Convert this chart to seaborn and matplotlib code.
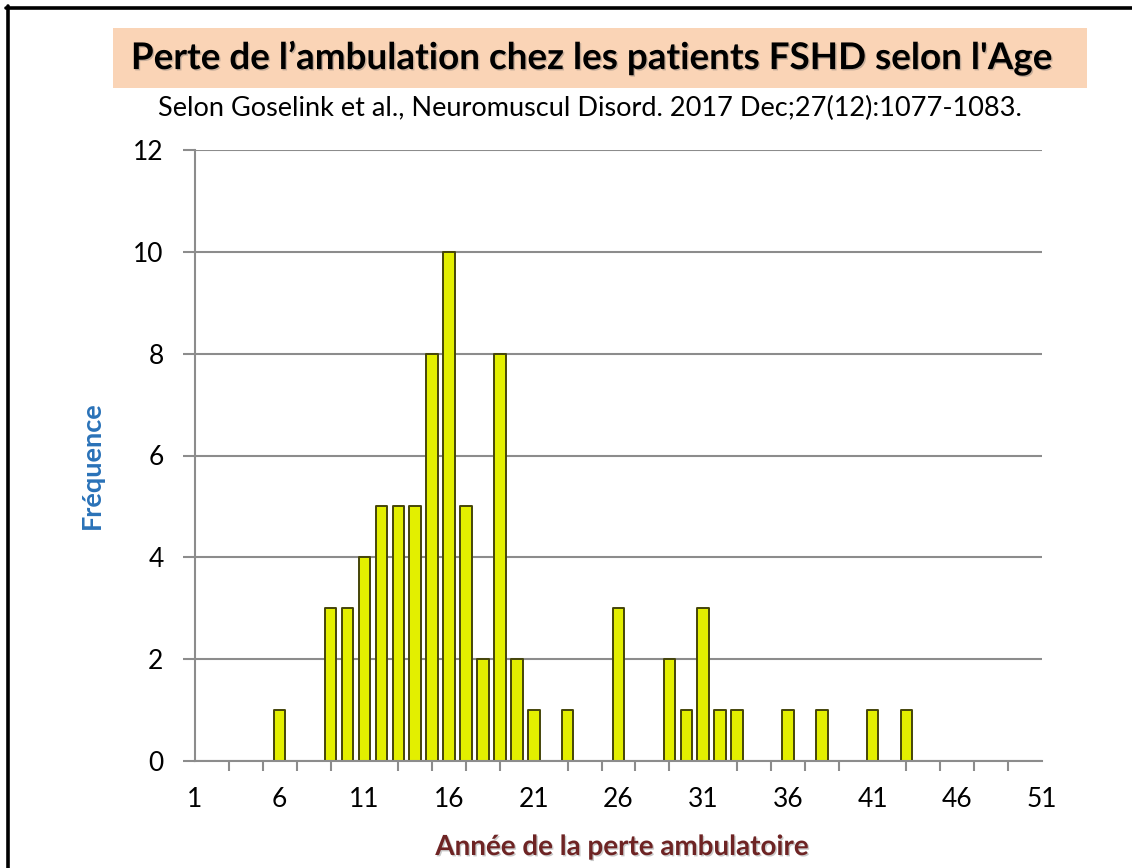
import matplotlib
matplotlib.use("Agg")
import matplotlib.pyplot as plt
import matplotlib.patheffects as pe
from matplotlib.patches import Rectangle
from matplotlib.lines import Line2D
from matplotlib.ticker import FixedLocator
import seaborn as sns
import pandas as pd

# Age at loss of ambulation and number of patients
ages = [6, 9, 10, 11, 12, 13, 14, 15, 16, 17, 18, 19, 20, 21, 23,
        26, 29, 30, 31, 32, 33, 36, 38, 41, 43]
counts = [1, 3, 3, 4, 5, 5, 5, 8, 10, 5, 2, 8, 2, 1, 1,
          3, 2, 1, 3, 1, 1, 1, 1, 1, 1]
x_labels = [1, 6, 11, 16, 21, 26, 31, 36, 41, 46, 51]
y_ticks = [0, 2, 4, 6, 8, 10, 12]

title = "Perte de l\u2019ambulation chez les patients FSHD selon l'Age"
subtitle = "Selon Goselink et al., Neuromuscul Disord. 2017 Dec;27(12):1077-1083."
xlabel = "Ann\u00e9e de la perte ambulatoire"
ylabel = "Fr\u00e9quence"

df = pd.DataFrame({"age": ages, "n": counts})

sns.set_theme(style="white")
plt.rcParams["font.family"] = ["Lato", "DejaVu Sans"]

W, H = 1132, 868
fig = plt.figure(figsize=(W / 100, H / 100), dpi=100)
fig.patch.set_facecolor("white")

# axes placed in pixel terms
left, right, top, bottom = 195, 1042, 150, 761
ax = fig.add_axes([left / W, 1 - bottom / H, (right - left) / W, (bottom - top) / H])

grid_c = "#8c8c8c"
ax.set_axisbelow(True)
ax.yaxis.grid(True, color=grid_c, linewidth=1.5)

sns.barplot(data=df, x="age", y="n", native_scale=True, width=0.68,
            color="#e3ef00", saturation=1, edgecolor="#45450a",
            linewidth=1.4, ax=ax)
for p in ax.patches:
    p.set_joinstyle("round")

ax.set_xlim(1, 51)
ax.set_ylim(0, 12)

for s in ["top", "right"]:
    ax.spines[s].set_visible(False)
for s in ["left", "bottom"]:
    ax.spines[s].set_color(grid_c)
    ax.spines[s].set_linewidth(1.5)

ax.set_yticks(y_ticks)
ax.tick_params(axis="y", direction="out", length=8.6, width=1.5, color=grid_c,
               pad=14, labelsize=19, labelcolor="black", left=True)
ax.xaxis.set_major_locator(FixedLocator(x_labels))
ax.xaxis.set_minor_locator(FixedLocator(list(range(1, 52, 2))))
ax.tick_params(axis="x", which="major", length=0, pad=19, labelsize=19,
               labelcolor="black", bottom=True)
ax.tick_params(axis="x", which="minor", direction="out", length=7, width=1.5,
               color=grid_c, bottom=True)

shadow = [pe.SimplePatchShadow(offset=(1, -1), shadow_rgbFace="#666666", alpha=0.35),
          pe.Normal()]

ax.set_ylabel(ylabel, fontsize=19.5, fontweight="bold", color="#2a72b8")
ax.yaxis.label.set_va("center")
ax.yaxis.set_label_coords((92 - left) / (right - left), (bottom - 465) / (bottom - top))
ax.set_xlabel(xlabel, fontsize=20, fontweight="bold", color="#6e2424",
              path_effects=shadow)
ax.xaxis.label.set_va("center")
ax.xaxis.set_label_coords((622 - left) / (right - left), (bottom - 847) / (bottom - top))

# title band
fig.patches.append(Rectangle((113 / W, 1 - 88 / H), 974 / W, 60 / H,
                             transform=fig.transFigure, facecolor="#fad4b6",
                             edgecolor="none", zorder=0))
fig.text(590 / W, 1 - 58 / H, title, ha="center", va="center", fontsize=26.5,
         fontweight="bold", color="black", path_effects=shadow)
fig.text(590 / W, 1 - 108 / H, subtitle, ha="center", va="center", fontsize=19.5,
         color="black")

# slide frame on top and left
fig.lines.append(Line2D([6 / W, 1], [1 - 7.5 / H, 1 - 7.5 / H], transform=fig.transFigure,
                        color="black", linewidth=2.6))
fig.lines.append(Line2D([7.5 / W, 7.5 / W], [0, 1 - 6 / H], transform=fig.transFigure,
                        color="black", linewidth=2.6))

fig.savefig("out.png", dpi=100, facecolor="white")
